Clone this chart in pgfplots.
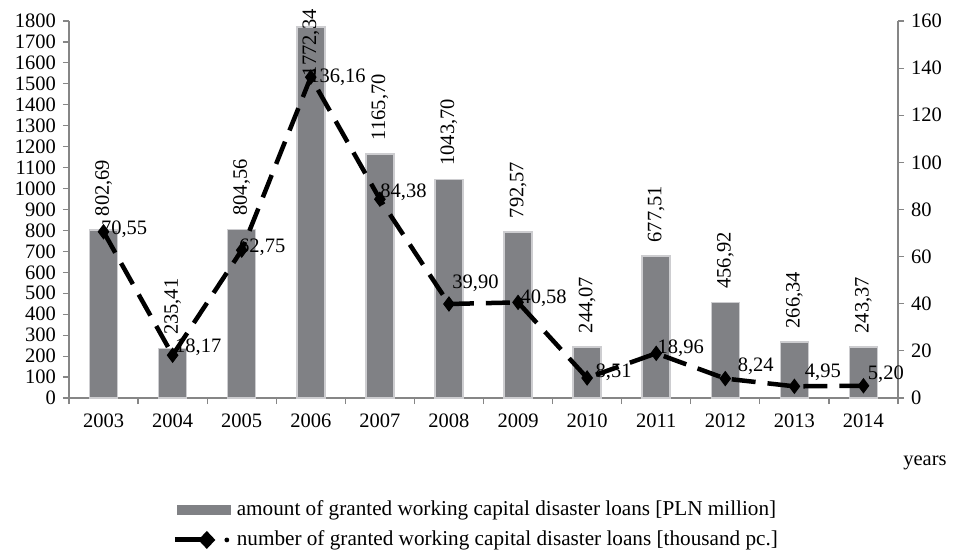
\documentclass[border=0pt]{standalone}
\usepackage{fontspec}
\setmainfont{Liberation Serif}
\usepackage{pgfplots}
\usepackage{pgfplotstable}
\pgfplotsset{compat=1.18}
\definecolor{barcol}{RGB}{128,129,133}
\definecolor{barhalo}{RGB}{205,205,208}
\definecolor{axcol}{RGB}{134,134,134}
\pgfplotstableread{
x amount alab bdy count clab dx dy
0 802.69 802,69 13 70.55 70,55 -3 3
1 235.41 235,41 13 18.17 18,17 2 8
2 804.56 804,56 13 62.75 62,75 -3 3
3 1772.34 1772,34 -50 136.16 136,16 -2 0
4 1165.70 1165,70 13 84.38 84,38 0 7
5 1043.70 1043,70 13 39.90 39,90 3 21
6 792.57 792,57 13 40.58 40,58 2 4
7 244.07 244,07 13 8.51 8,51 8 6
8 677.51 677,51 13 18.96 18,96 1 5
9 456.92 456,92 13 8.24 8,24 12 12
10 266.34 266,34 13 4.95 4,95 10 14
11 243.37 243,37 13 5.20 5,20 4 11
}\data
\begin{document}
\fontsize{20.5bp}{24bp}\selectfont
\begin{tikzpicture}
\begin{axis}[
  at={(0,0)}, anchor=south west,
  scale only axis, width=829bp, height=377bp,
  xmin=-0.5, xmax=11.5, ymin=0, ymax=1800,
  axis x line*=bottom, axis y line*=left,
  axis line style={draw=axcol, line width=1.2bp, -},
  tick style={draw=axcol, line width=1.2bp},
  tick align=outside,
  xtick={0,...,11},
  xticklabels={2003,2004,2005,2006,2007,2008,2009,2010,2011,2012,2013,2014},
  xticklabel style={yshift=-3bp},
  major x tick style={draw=none},
  minor xtick={-0.5,0.5,...,11.5},
  minor tick length=6bp,
  ytick={0,100,...,1800},
  major tick length=6bp,
  /pgf/number format/assume math mode=true,
  scaled y ticks=false,
  yticklabel style={/pgf/number format/1000 sep={}},
  clip=false,
]
\addplot[ybar, bar width=28bp, fill=barcol, draw=barhalo, line width=1.5bp,
  nodes near coords, point meta=explicit symbolic,
  visualization depends on={\thisrow{bdy} \as \bdy},
  every node near coord/.append style={yshift=\bdy bp, rotate=90, anchor=west, inner sep=0pt, black}]
  table[x=x, y=amount, meta=alab] {\data};
\end{axis}
\begin{axis}[
  at={(0,0)}, anchor=south west,
  scale only axis, width=829bp, height=377bp,
  xmin=-0.5, xmax=11.5, ymin=0, ymax=160,
  axis x line=none, axis y line*=right,
  axis line style={draw=axcol, line width=1.2bp, -},
  tick style={draw=axcol, line width=1.2bp},
  tick align=outside, major tick length=6bp,
  ytick={0,20,...,160},
  /pgf/number format/assume math mode=true,
  clip=false,
  legend style={at={(0.1208,-0.262)}, anchor=north west, draw=none, fill=none,
    font=\fontsize{21.2bp}{24bp}\selectfont,
    row sep=8bp},
  legend cell align=left,
]
\addlegendimage{legend image code/.code={\fill[barcol, draw=none] (2bp,-5bp) rectangle (56bp,5bp); \path[draw=none, fill=none] (0bp,0bp) -- (60bp,0bp);}}
\addlegendentry{amount of granted working capital disaster loans [PLN million]}
\addplot[black, line width=4.5bp, dash pattern=on 24bp off 12bp,
  mark=diamond*, mark size=7bp, mark options={solid, fill=black, line width=1bp},
  nodes near coords, point meta=explicit symbolic,
  visualization depends on={\thisrow{dx} \as \ldx},
  visualization depends on={\thisrow{dy} \as \ldy},
  every node near coord/.append style={anchor=west, inner sep=0pt, xshift=\ldx bp, yshift=\ldy bp, black},
  legend image code/.code={
    \path[draw=none, fill=none] (0bp,0bp) -- (60bp,0bp);
    \draw[solid, black, line width=5bp] (0bp,0bp) -- (28bp,0bp);
    \fill[solid, black, draw=none] (32bp,0bp) +(0,9bp) -- +(8.5bp,0) -- +(0,-9bp) -- +(-8.5bp,0) -- cycle;
    \fill[black, draw=none] (52bp,0bp) circle (2.4bp);}
  ]
  table[x=x, y=count, meta=clab] {\data};
\addlegendentry{number of granted working capital disaster loans [thousand pc.]}
\end{axis}
\node at (856bp,-65bp) {years};
\pgfresetboundingbox
\path (-69bp,-159bp) rectangle (888bp,398bp);
\end{tikzpicture}
\end{document}
